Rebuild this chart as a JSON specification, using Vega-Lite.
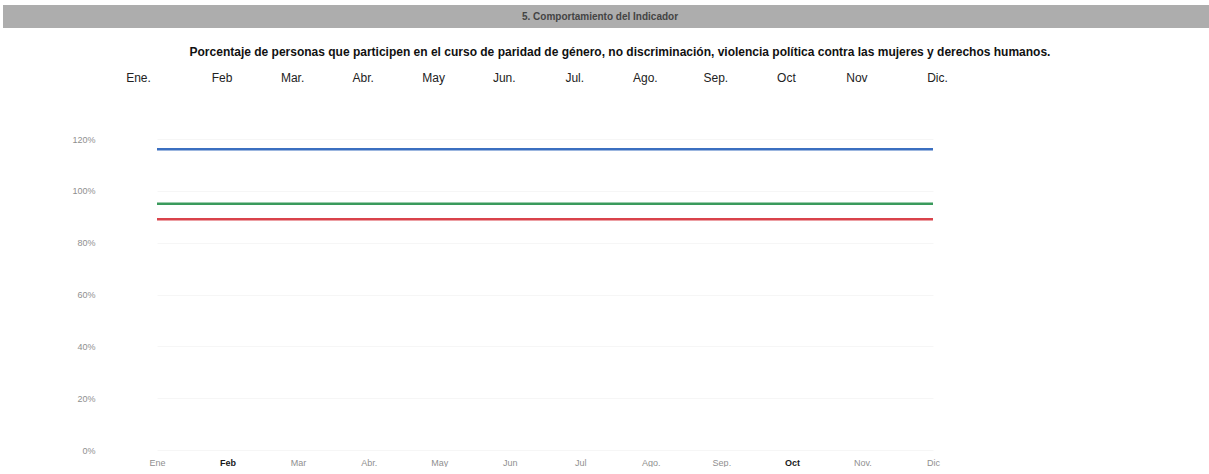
{
  "$schema": "https://vega.github.io/schema/vega-lite/v6.json",
  "background": "white",
  "padding": {"left": 3, "top": 5, "right": 0, "bottom": 0},
  "columns": 1,
  "spacing": 18,
  "config": {"view": {"stroke": null}},
  "concat": [
    {
      "width": 1206,
      "height": 23,
      "view": {"fill": "#adadad", "stroke": null},
      "data": {"values": [{"encabezado": "5. Comportamiento del Indicador"}]},
      "mark": {"type": "text", "font": "Liberation Sans", "fontSize": 10, "fontWeight": "bold", "color": "#444444", "dx": -6},
      "encoding": {"text": {"field": "encabezado"}}
    },
    {
      "width": 950,
      "height": 311,
      "title": {
        "text": "Porcentaje de personas que participen en el curso de paridad de género, no discriminación, violencia política contra las mujeres y derechos humanos.",
        "font": "Liberation Sans",
        "fontSize": 12,
        "fontWeight": "bold",
        "color": "#111111",
        "anchor": "middle",
        "dx": 142,
        "offset": 12
      },
      "data": {"values": [
        {"mes": "Ene", "serie": "Serie A", "valor": 1.16},
        {"mes": "Feb", "serie": "Serie A", "valor": 1.16},
        {"mes": "Mar", "serie": "Serie A", "valor": 1.16},
        {"mes": "Abr.", "serie": "Serie A", "valor": 1.16},
        {"mes": "May", "serie": "Serie A", "valor": 1.16},
        {"mes": "Jun", "serie": "Serie A", "valor": 1.16},
        {"mes": "Jul", "serie": "Serie A", "valor": 1.16},
        {"mes": "Ago.", "serie": "Serie A", "valor": 1.16},
        {"mes": "Sep.", "serie": "Serie A", "valor": 1.16},
        {"mes": "Oct", "serie": "Serie A", "valor": 1.16},
        {"mes": "Nov.", "serie": "Serie A", "valor": 1.16},
        {"mes": "Dic", "serie": "Serie A", "valor": 1.16},
        {"mes": "Ene", "serie": "Serie B", "valor": 0.95},
        {"mes": "Feb", "serie": "Serie B", "valor": 0.95},
        {"mes": "Mar", "serie": "Serie B", "valor": 0.95},
        {"mes": "Abr.", "serie": "Serie B", "valor": 0.95},
        {"mes": "May", "serie": "Serie B", "valor": 0.95},
        {"mes": "Jun", "serie": "Serie B", "valor": 0.95},
        {"mes": "Jul", "serie": "Serie B", "valor": 0.95},
        {"mes": "Ago.", "serie": "Serie B", "valor": 0.95},
        {"mes": "Sep.", "serie": "Serie B", "valor": 0.95},
        {"mes": "Oct", "serie": "Serie B", "valor": 0.95},
        {"mes": "Nov.", "serie": "Serie B", "valor": 0.95},
        {"mes": "Dic", "serie": "Serie B", "valor": 0.95},
        {"mes": "Ene", "serie": "Serie C", "valor": 0.89},
        {"mes": "Feb", "serie": "Serie C", "valor": 0.89},
        {"mes": "Mar", "serie": "Serie C", "valor": 0.89},
        {"mes": "Abr.", "serie": "Serie C", "valor": 0.89},
        {"mes": "May", "serie": "Serie C", "valor": 0.89},
        {"mes": "Jun", "serie": "Serie C", "valor": 0.89},
        {"mes": "Jul", "serie": "Serie C", "valor": 0.89},
        {"mes": "Ago.", "serie": "Serie C", "valor": 0.89},
        {"mes": "Sep.", "serie": "Serie C", "valor": 0.89},
        {"mes": "Oct", "serie": "Serie C", "valor": 0.89},
        {"mes": "Nov.", "serie": "Serie C", "valor": 0.89},
        {"mes": "Dic", "serie": "Serie C", "valor": 0.89}
      ]},
      "resolve": {"axis": {"x": "independent"}},
      "layer": [
        {
          "mark": {"type": "line", "strokeWidth": 2.5},
          "encoding": {
            "x": {
              "field": "mes", "type": "ordinal", "sort": null,
              "scale": {"type": "point", "padding": 0, "range": [154, 930]},
              "axis": {
                "orient": "bottom", "title": null, "domain": false, "ticks": false,
                "labelPadding": 8, "labelFontSize": 9, "labelFont": "Liberation Sans",
                "labelAngle": 0,
                "labelColor": {"condition": {"test": "datum.value === 'Feb' || datum.value === 'Oct'", "value": "#1a1a1a"}, "value": "#8f8f8f"},
                "labelFontWeight": {"condition": {"test": "datum.value === 'Feb' || datum.value === 'Oct'", "value": "bold"}, "value": "normal"}
              }
            },
            "y": {
              "field": "valor", "type": "quantitative",
              "scale": {"domain": [0, 1.2], "nice": false},
              "axis": {
                "title": null, "format": ".0%", "values": [0, 0.2, 0.4, 0.6, 0.8, 1.0, 1.2],
                "domain": false, "ticks": false, "labelPadding": -92,
                "labelFontSize": 9, "labelFont": "Liberation Sans", "labelColor": "#8f8f8f",
                "grid": true, "gridColor": "#f6f6f6", "gridWidth": 1
              }
            },
            "color": {
              "field": "serie", "type": "nominal",
              "scale": {"domain": ["Serie A", "Serie B", "Serie C"], "range": ["#3b6fc0", "#3a9a5c", "#d9434b"]},
              "legend": null
            }
          }
        },
        {
          "mark": {"type": "rule", "strokeOpacity": 0},
          "encoding": {
            "x": {
              "field": "mes", "type": "ordinal", "sort": null,
              "axis": {
                "orient": "top", "title": null, "domain": false, "ticks": false, "grid": false,
                "labelPadding": 55, "labelFontSize": 12, "labelFont": "Liberation Sans",
                "labelColor": "#222222", "labelAngle": 0,
                "labelOffset": {"condition": [{"test": "datum.value === 'Ene'", "value": -19}, {"test": "datum.value === 'Dic'", "value": 4}], "value": -6},
                "labelExpr": "({'Ene':'Ene.','Feb':'Feb','Mar':'Mar.','Abr.':'Abr.','May':'May','Jun':'Jun.','Jul':'Jul.','Ago.':'Ago.','Sep.':'Sep.','Oct':'Oct','Nov.':'Nov','Dic':'Dic.'})[datum.value]"
              }
            }
          }
        }
      ]
    }
  ]
}
